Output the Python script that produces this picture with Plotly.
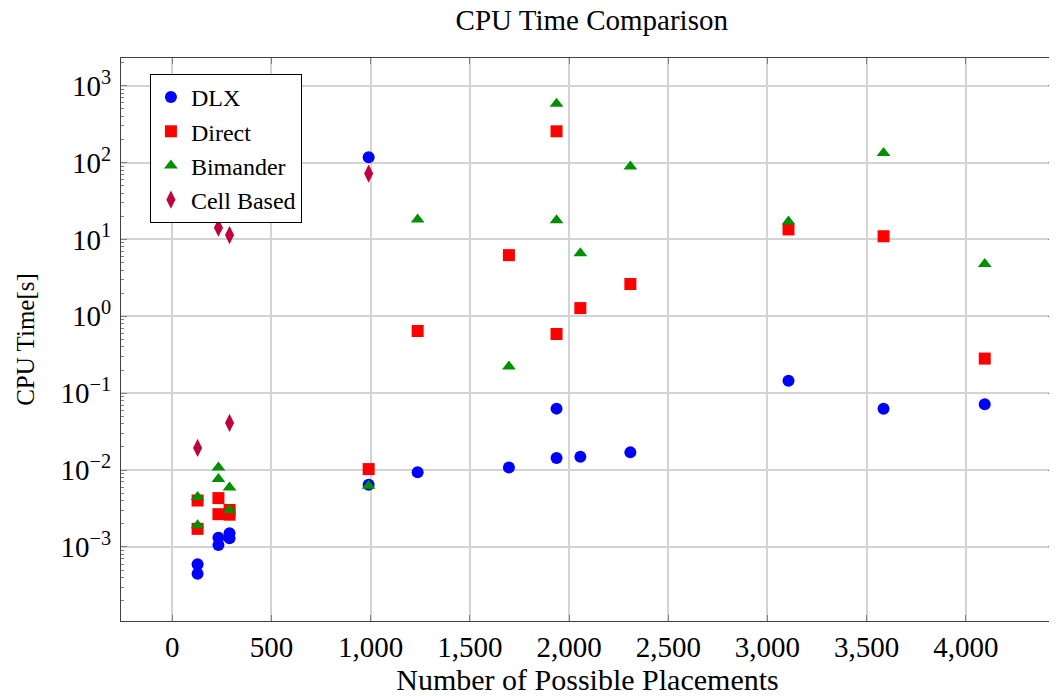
import plotly.graph_objects as go

# Data
dlx_x = [128, 128, 233, 233, 289, 289, 990, 990, 1237, 1697, 1937, 1937, 2057, 2309, 3106, 3585, 4095]
dlx_y = [0.000594, 0.000449, 0.00132, 0.00106, 0.00151, 0.0013, 0.00643, 117,
         0.0094, 0.0108, 0.063, 0.0144, 0.0149, 0.017, 0.145, 0.0626, 0.072]

direct_x = [128, 128, 233, 233, 289, 289, 990, 1237, 1697, 1937, 1937, 2057, 2309, 3106, 3585, 4095]
direct_y = [0.00402, 0.00172, 0.00432, 0.00267, 0.00303, 0.00263, 0.0103, 0.644,
            6.25, 255, 0.589, 1.28, 2.63, 13.5, 11.0, 0.282]

bimander_x = [128, 128, 233, 233, 289, 289, 990, 1237, 1697, 1937, 1937, 2057, 2309, 3106, 3585, 4095]
bimander_y = [0.00445, 0.00192, 0.0108, 0.00763, 0.00593, 0.00303, 0.00624, 18.2,
              0.222, 584, 17.8, 6.63, 88.7, 17.1, 133, 4.78]

cell_x = [128, 233, 289, 289, 990]
cell_y = [0.0194, 14.2, 11.4, 0.041, 72]

y_tickvals = [1e-3, 1e-2, 1e-1, 1e0, 1e1, 1e2, 1e3]
y_ticktext = ["10<sup>−3</sup>", "10<sup>−2</sup>", "10<sup>−1</sup>", "10<sup>0</sup>",
              "10<sup>1</sup>", "10<sup>2</sup>", "10<sup>3</sup>"]

FONT = "Liberation Serif"

# the page body has an 8px margin, so the figure is 8px smaller each way
W, H = 1049, 688

fig = go.Figure()

fig.add_trace(go.Scatter(x=dlx_x, y=dlx_y, mode="markers", name="DLX",
                         marker=dict(symbol="circle", size=12, color="#0000ff")))
fig.add_trace(go.Scatter(x=direct_x, y=direct_y, mode="markers", name="Direct",
                         marker=dict(symbol="square", size=12, color="#ff0000")))
fig.add_trace(go.Scatter(x=bimander_x, y=bimander_y, mode="markers", name="Bimander",
                         marker=dict(symbol="triangle-up", size=12, color="#009000")))
fig.add_trace(go.Scatter(x=cell_x, y=cell_y, mode="markers", name="Cell Based",
                         marker=dict(symbol="diamond-tall", size=13, color="#c0003f")))

fig.update_layout(
    width=W,
    height=H,
    margin=dict(l=113, r=3, t=50, b=75),
    plot_bgcolor="white",
    paper_bgcolor="white",
    font=dict(family=FONT, size=28, color="black"),
    title=dict(text="CPU Time Comparison", x=0.5565, xanchor="center",
               y=1 - 12 / H, yanchor="middle", font=dict(family=FONT, size=29)),
    legend=dict(x=0.031, y=0.9716, xanchor="left", yanchor="top",
                bordercolor="black", borderwidth=1, bgcolor="white",
                font=dict(family=FONT, size=24), tracegroupgap=0),
)

fig.update_xaxes(
    range=[-258, 4444],
    tickvals=list(range(0, 4001, 500)),
    tickformat=",d",
    tickfont=dict(family=FONT, size=29),
    showgrid=True, gridcolor="#d3d3d3", gridwidth=1.5,
    showline=True, linecolor="#404040", linewidth=1, mirror="ticks",
    ticks="inside", ticklen=6, tickcolor="#808080",
    zeroline=False,
    title=dict(text="Number of Possible Placements", standoff=10,
               font=dict(family=FONT, size=30)),
)

fig.update_yaxes(
    type="log",
    range=[-3.963, 3.36],
    tickvals=y_tickvals,
    ticktext=y_ticktext,
    tickfont=dict(family=FONT, size=29),
    ticklabelstandoff=3,
    showgrid=True, gridcolor="#d3d3d3", gridwidth=1.5,
    showline=True, linecolor="#404040", linewidth=1, mirror="ticks",
    ticks="inside", ticklen=6, tickcolor="#808080",
    minor=dict(ticks="inside", ticklen=3, tickcolor="#808080", dtick="D1", showgrid=False),
    zeroline=False,
    title=dict(text="CPU Time[s]", standoff=18, font=dict(family=FONT, size=25)),
)

fig.write_html("out.html")
